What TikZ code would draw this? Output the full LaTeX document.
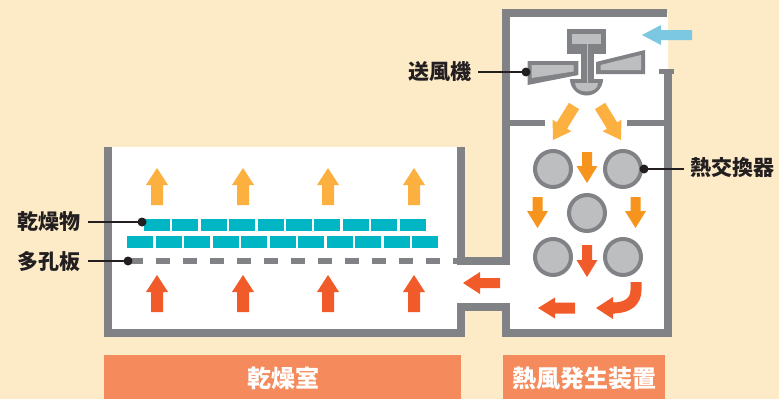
\documentclass[tikz,border=0pt]{standalone}
\usepackage{fontspec}
\setmainfont{Noto Sans CJK JP}
\usetikzlibrary{calc}

\definecolor{bg}{RGB}{253,234,199}
\definecolor{wallgray}{RGB}{128,130,133}
\definecolor{pale}{RGB}{188,190,192}
\definecolor{ink}{RGB}{35,31,32}
\definecolor{teal}{RGB}{0,181,196}
\definecolor{lightorange}{RGB}{251,176,64}
\definecolor{midorange}{RGB}{247,148,29}
\definecolor{redorange}{RGB}{241,90,41}
\definecolor{barfill}{RGB}{245,138,92}
\definecolor{skyblue}{RGB}{124,200,226}

% fat block arrow: colour, tail, tip, half shaft width, half head width, head length
\newcommand\fatarrow[6]{%
  \coordinate (fa-b) at ($(#3)!#6!(#2)$);
  \fill[#1] ($(#2)!#4!90:(#3)$) -- ($(fa-b)!#4!90:(#3)$) -- ($(fa-b)!#5!90:(#3)$)
    -- (#3) -- ($(fa-b)!#5!-90:(#3)$) -- ($(fa-b)!#4!-90:(#3)$) -- ($(#2)!#4!-90:(#3)$) -- cycle;}

\tikzset{
  wall/.style={draw=wallgray,line width=8pt,line join=miter},
  lbl/.style={text=ink,inner sep=0pt,font=\fontsize{21}{21}\selectfont\bfseries},
  barlbl/.style={text=white,inner sep=0pt,font=\fontsize{24}{24}\selectfont\bfseries},
  leader/.style={draw=ink,line width=2pt},
  tube/.style={draw=wallgray,fill=pale,line width=4pt},
}

\begin{document}
\begin{tikzpicture}[x=1pt,y=-1pt]
\useasboundingbox (0,0) rectangle (779,399);
\fill[bg] (0,0) rectangle (779,399);

% interior of the chamber, duct and heater
\fill[white] (108,147) -- (108,332.5) -- (460.5,332.5) -- (460.5,306.5) -- (506,306.5)
  -- (506,332.5) -- (668,332.5) -- (668,13) -- (506,13) -- (506,260.5) -- (460.5,260.5)
  -- (460.5,147) -- cycle;

% walls
\draw[wall] (108,147) -- (108,332.5) -- (460.5,332.5) -- (460.5,306.5) -- (506,306.5)
  -- (506,332.5) -- (668,332.5) -- (668,69);
\draw[wall] (460.5,147) -- (460.5,260.5) -- (506,260.5) -- (506,13) -- (667,13);
\draw[wallgray,line width=5pt] (659,71.5) -- (674,71.5);
\draw[wallgray,line width=6pt] (506,123) -- (545,123) (627,123) -- (668,123);

% fan
\fill[wallgray] (567,29) rectangle (606,54);
\fill[pale] (572,34) rectangle (601,44);
\fill[wallgray] (581,54) rectangle (594,82);
\fill[wallgray] (570,79) -- (603,79) .. controls (603,88.1) and (595.6,95.5) .. (586.5,95.5)
  .. controls (577.4,95.5) and (570,88.1) .. (570,79) -- cycle;
\fill[pale] (575,83) -- (598,83) .. controls (598,88.5) and (593,91.5) .. (586.5,91.5)
  .. controls (580,91.5) and (575,88.5) .. (575,83) -- cycle;
\draw[pale,line width=1pt] (587.5,44) -- (587.5,83);
\fill[wallgray] (527.7,61) -- (578.3,61) -- (578.3,75) -- (527.7,85) -- cycle;
\fill[pale] (531.5,65) -- (573.5,65) -- (573.5,71.5) -- (531.5,78) -- cycle;
\fill[wallgray] (596,62) -- (645,50) -- (645,74) -- (596,74) -- cycle;
\fill[pale] (600.5,65) -- (641,55) -- (641,70) -- (600.5,70) -- cycle;

% incoming air
\fatarrow{skyblue}{692,35}{642,35}{5pt}{10pt}{19pt}
\fatarrow{lightorange}{574,106}{553,140}{6pt}{11pt}{17pt}
\fatarrow{lightorange}{600,106}{621,140}{6pt}{11pt}{17pt}

% heat exchanger tubes
\foreach \p in {(553,169),(623,169),(587,213),(553,257),(623,257)}
  \filldraw[tube] \p circle (18pt);
\fatarrow{midorange}{587,152}{587,183}{5pt}{10.5pt}{17pt}
\fatarrow{midorange}{537.5,197}{537.5,228}{5pt}{10.5pt}{17pt}
\fatarrow{midorange}{635.5,197}{635.5,228}{5pt}{10.5pt}{17pt}
\fatarrow{redorange}{587,245}{587,277}{5pt}{10.5pt}{17pt}

% hot air returning to the duct
\draw[redorange,line width=11pt] (636,282) -- (636,290) .. controls (636,301) and (628,308) .. (613,308);
\fatarrow{redorange}{615,308}{596,308}{5.5pt}{11pt}{17pt}
\fatarrow{redorange}{575,308}{538,308}{5.5pt}{10.5pt}{17pt}
\fatarrow{redorange}{500,283}{463,283}{5pt}{11pt}{17pt}

% drying chamber air flow
\foreach \x in {157,243,328,414} {
  \fatarrow{lightorange}{\x,205}{\x,168}{6pt}{11pt}{17pt}
  \fatarrow{redorange}{\x,312}{\x,275}{6pt}{11pt}{17pt}
}

% material being dried
\foreach \i in {0,...,9}
  \fill[teal] ({144+28.4*\i},219) rectangle ++(26,12);
\foreach \i in {0,...,10}
  \fill[teal] ({127+28.5*\i},236) rectangle ++(26,12);

% perforated plate
\draw[wallgray,line width=6pt,dash pattern=on 14pt off 13pt] (129,261) -- (460,261);

% labels
\node[lbl,anchor=east] (l-dry) at (81,222) {乾燥物};
\coordinate (d-dry) at (142,222);
\draw[leader] ([xshift=7pt]l-dry.east) -- (d-dry);
\fill[ink] (d-dry) circle (4.5pt);

\node[lbl,anchor=east] (l-plate) at (81,262) {多孔板};
\coordinate (d-plate) at (128,261);
\draw[leader] ([xshift=7pt]l-plate.east |- d-plate) -- (d-plate);
\fill[ink] (d-plate) circle (4.5pt);

\node[lbl,anchor=east] (l-fan) at (472,72) {送風機};
\coordinate (d-fan) at (526,72);
\draw[leader] ([xshift=6pt]l-fan.east |- d-fan) -- (d-fan);
\fill[ink] (d-fan) circle (4.5pt);

\node[lbl,anchor=west] (l-hx) at (690,168) {熱交換器};
\coordinate (d-hx) at (644,169);
\draw[leader] (d-hx) -- ([xshift=-6pt]l-hx.west |- d-hx);
\fill[ink] (d-hx) circle (4.5pt);

% captions
\fill[barfill] (104,355) rectangle (461,399);
\fill[barfill] (503,355) rectangle (665,399);
\node[barlbl] (c-dry) at (283,378) {乾燥室};
\node[barlbl] (c-hot) at (584,378) {熱風発生装置};
\end{tikzpicture}
\end{document}
